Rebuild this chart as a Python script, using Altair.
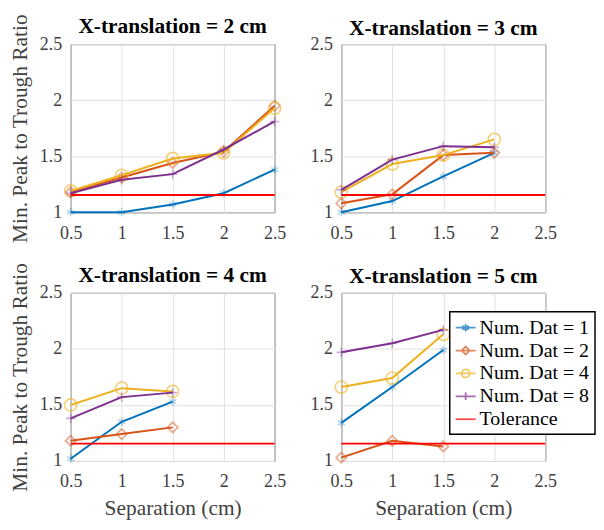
import altair as alt
import pandas as pd

x_vals = [0.5, 1.0, 1.5, 2.0, 2.5]
y_ticks = [1.0, 1.5, 2.0, 2.5]
panels = ["X-translation = 2 cm", "X-translation = 3 cm",
          "X-translation = 4 cm", "X-translation = 5 cm"]
series = ["Num. Dat = 1", "Num. Dat = 2", "Num. Dat = 4", "Num. Dat = 8"]
tol_label = "Tolerance"
tolerance = 1.155
tol_x = [0.5, 2.5]

# X-translation = 2 cm
p2_d1 = [1.00, 1.00, 1.07, 1.17, 1.38]
p2_d2 = [1.18, 1.31, 1.44, 1.54, 1.95]
p2_d4 = [1.19, 1.33, 1.48, 1.53, 1.93]
p2_d8 = [1.17, 1.29, 1.34, 1.56, 1.81]
# X-translation = 3 cm
p3_d1 = [1.00, 1.10, 1.32, 1.53]
p3_d2 = [1.08, 1.16, 1.51, 1.53]
p3_d4 = [1.18, 1.43, 1.51, 1.65]
p3_d8 = [1.20, 1.47, 1.59, 1.58]
# X-translation = 4 cm
p4_d1 = [1.02, 1.35, 1.53]
p4_d2 = [1.18, 1.24, 1.30]
p4_d4 = [1.50, 1.65, 1.62]
p4_d8 = [1.38, 1.57, 1.61]
# X-translation = 5 cm
p5_d1 = [1.34, 1.66, 1.99]
p5_d2 = [1.03, 1.18, 1.13]
p5_d4 = [1.66, 1.74, 2.13]
p5_d8 = [1.97, 2.05, 2.17]

panel_data = [
    [p2_d1, p2_d2, p2_d4, p2_d8],
    [p3_d1, p3_d2, p3_d4, p3_d8],
    [p4_d1, p4_d2, p4_d4, p4_d8],
    [p5_d1, p5_d2, p5_d4, p5_d8],
]

colors = ["#0072BD", "#D95319", "#EDB120", "#7E2F8E", "#FF0000"]
domain = series + [tol_label]

ASTER = "M0,-1V1M-0.87,-0.5L0.87,0.5M-0.87,0.5L0.87,-0.5"
PLUS = "M-1,0H1M0,-1V1"
marker_shapes = [ASTER, "diamond", "circle", PLUS]
marker_sizes = [70, 110, 150, 90]
marker_opacity = [0.3, 0.5, 0.6, 0.4]

leg_shapes = [
    "M-1,0H1M0,-0.38V0.38M-0.33,-0.19L0.33,0.19M-0.33,0.19L0.33,-0.19",
    "M-1,0H1M0,-0.4L0.4,0L0,0.4L-0.4,0Z",
    "M-1,0H1M0.4,0A0.4,0.4 0 1 1 -0.4,0A0.4,0.4 0 1 1 0.4,0",
    "M-1,0H1M0,-0.38V0.38",
    "M-1,0H1",
]

rows = []
for pi, pdata in enumerate(panel_data):
    for si, vals in enumerate(pdata):
        for xi, v in enumerate(vals):
            rows.append({"panel": panels[pi], "series": series[si],
                         "x": x_vals[xi], "y": v})
df = pd.DataFrame(rows)

tol_rows = []
for p in panels:
    for tx in tol_x:
        tol_rows.append({"panel": p, "series": tol_label, "x": tx, "y": tolerance})
tol_df = pd.DataFrame(tol_rows)

SERIF = "Liberation Serif"
TXT = "#404040"

XS = alt.Scale(domain=[0.5, 2.5], nice=False)
YS = alt.Scale(domain=[1.0, 2.5], nice=False)


def make_panel(idx):
    name = panels[idx]
    col = idx % 2
    row = idx // 2
    x_axis = alt.Axis(values=x_vals, labelExpr="datum.value + ''",
                      title="Separation (cm)" if row == 1 else None,
                      grid=True, ticks=False, domain=False,
                      labelFont=SERIF, labelFontSize=18, labelColor=TXT,
                      labelPadding=12, titleFont=SERIF, titleFontSize=21.5,
                      titleFontWeight="normal", titleColor=TXT, titlePadding=7,
                      gridColor="#e0e0e0", labelFlush=False)
    y_axis = alt.Axis(values=y_ticks, labelExpr="datum.value + ''",
                      title="Min. Peak to Trough Ratio" if col == 0 else None,
                      grid=True, ticks=False, domain=False,
                      labelFont=SERIF, labelFontSize=18, labelColor=TXT,
                      labelPadding=9, titleFont=SERIF, titleFontSize=21.5,
                      titleFontWeight="normal", titleColor=TXT, titlePadding=8,
                      gridColor="#e0e0e0", labelFlush=False)
    xenc = alt.X("x:Q", scale=XS, axis=x_axis)
    yenc = alt.Y("y:Q", scale=YS, axis=y_axis)

    pdf = df[df["panel"] == name]
    base = alt.Chart(pdf)
    layers = []
    for si, s in enumerate(series):
        ln = base.transform_filter(alt.datum.series == s).mark_line(
            strokeWidth=2, color=colors[si]
        ).encode(x=xenc, y=yenc, order="x:Q")
        pts = base.transform_filter(alt.datum.series == s).mark_point(
            shape=marker_shapes[si], size=marker_sizes[si], filled=False,
            strokeWidth=1.6, opacity=marker_opacity[si], color=colors[si]
        ).encode(x=xenc, y=yenc)
        layers += [ln, pts]
    tol = alt.Chart(tol_df[tol_df["panel"] == name]).mark_line(
        strokeWidth=2, color=colors[4]
    ).encode(x=xenc, y=yenc)
    layers.append(tol)
    if idx == 3:
        leg_cfg = alt.Legend(title=None, orient="none",
                             legendX=381, legendY=269,
                             symbolSize=400, symbolStrokeWidth=1.8,
                             symbolFillColor="transparent",
                             labelFont=SERIF, labelFontSize=20,
                             labelColor="#000", strokeColor="#000",
                             fillColor="white", padding=5,
                             rowPadding=2, labelOffset=3)
        leg = alt.Chart(tol_df[tol_df["panel"] == name]).transform_filter("false").mark_point(
            filled=False
        ).encode(
            x=xenc, y=yenc,
            color=alt.Color("series:N", scale=alt.Scale(domain=domain, range=colors),
                            legend=leg_cfg),
            shape=alt.Shape("series:N", scale=alt.Scale(domain=domain, range=leg_shapes),
                            legend=leg_cfg),
        )
        layers.append(leg)
    return alt.layer(*layers).properties(
        width=205, height=169,
        title=alt.TitleParams(name, font=SERIF, fontSize=21.5, fontWeight="bold",
                              color="#000", offset=6, dy=30 if col == 0 else 10),
    )


chart = alt.concat(*[make_panel(i) for i in range(4)], columns=2,
                   spacing={"row": 81, "column": 67}, bounds="flush").properties(
    padding={"left": 0, "top": 3, "right": 0, "bottom": 0}
).configure_view(stroke="#404040", strokeWidth=1).configure_legend(
    strokeWidth=1.5
).configure_axis(labelFont=SERIF, titleFont=SERIF)

chart.save("out.html", embed_options={"renderer": "svg", "actions": False})
